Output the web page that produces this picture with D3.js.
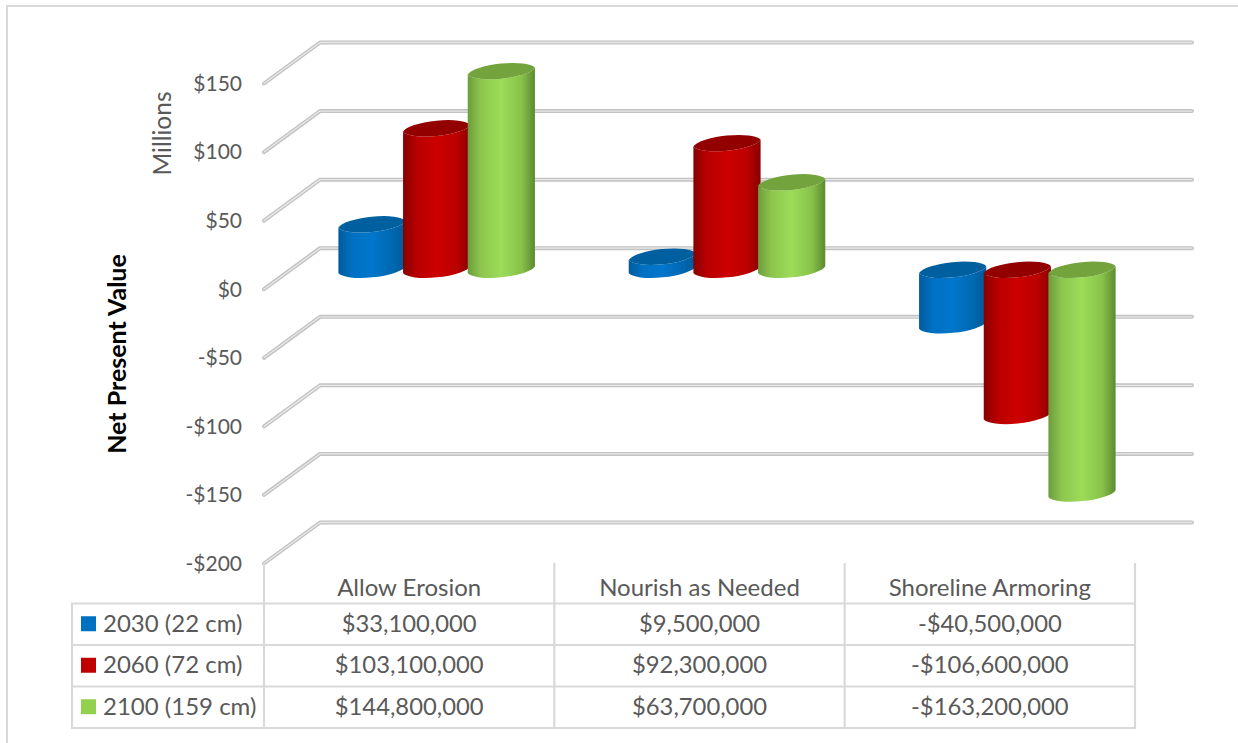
<!DOCTYPE html>
<html>
<head>
<meta charset="utf-8">
<script src="https://cdn.jsdelivr.net/npm/d3@7/dist/d3.min.js"></script>
<style>
html,body{margin:0;padding:0;background:#fff;overflow:hidden}
text{font-family:Lato,"Open Sans",sans-serif}
</style>
</head>
<body>
<svg id="chart" width="1238" height="743"></svg>
<script>
const categories = ["Allow Erosion", "Nourish as Needed", "Shoreline Armoring"];
const seriesNames = ["2030 (22 cm)", "2060 (72 cm)", "2100 (159 cm)"];
const values2030 = [33100000, 9500000, -40500000];
const values2060 = [103100000, 92300000, -106600000];
const values2100 = [144800000, 63700000, -163200000];
const tickValues = [150, 100, 50, 0, -50, -100, -150, -200];
const tableRows = [values2030, values2060, values2100];

const palette = [
  {swatch:"#0070c0", cap:"#00609f", stops:["#005b9e","#0070c2","#0077cc","#0068b2","#005a96"]},
  {swatch:"#c00000", cap:"#930000", stops:["#860000","#b80000","#cc0000","#bb0000","#880000"]},
  {swatch:"#92d050", cap:"#72a33e", stops:["#6c9c3c","#8ec64e","#9cdc58","#88c24a","#5c8a30"]}
];

const svg = d3.select("#chart");
const defs = svg.append("defs");
palette.forEach((p,i)=>{
  const g = defs.append("linearGradient").attr("id","cyl"+i).attr("x1",0).attr("x2",1).attr("y1",0).attr("y2",0);
  [0,.2,.5,.8,1].forEach((o,k)=>g.append("stop").attr("offset",o).attr("stop-color",p.stops[k]));
});
defs.append("filter").attr("id","soft").append("feGaussianBlur").attr("stdDeviation",0.5);

// outer frame
svg.append("path").attr("d","M7,743V6H1238").attr("fill","none").attr("stroke","#d9d9d9").attr("stroke-width",2);

// scales
const depthX = 56, depthY = 41;
const frontY = d3.scaleLinear().domain([-200,150]).range([563.5,83.5]);
const x = d3.scaleBand().domain(categories).range([264,1135]);
const series = d3.scaleBand().domain(d3.range(3)).range([0,194]);
const backY = v => frontY(v) - depthY;
const midY = v => frontY(v) - 19.5;
const midShift = 27.5;
const rowY = d3.scaleBand().domain(d3.range(3)).range([603.5,728]);

// gridlines
const gridPath = v => `M264,${frontY(v)}L${264+depthX},${backY(v)}H1192`;
const grid = svg.append("g").attr("fill","none").attr("stroke-linejoin","round").attr("stroke-linecap","round");
grid.selectAll(".o").data(tickValues).join("path").attr("d",gridPath).attr("stroke","#c2c2c2").attr("stroke-width",4);
grid.selectAll(".i").data(tickValues).join("path").attr("d",gridPath).attr("stroke","#e8e8e8").attr("stroke-width",1.3);

// y tick labels
const fmtTick = v => (v<0?"-":"") + "$" + Math.abs(v);
svg.append("g").selectAll("text").data(tickValues).join("text")
  .attr("x",242).attr("y",v=>frontY(v)).attr("dy","0.35em").attr("text-anchor","end")
  .attr("font-size",21).attr("fill","#595959").text(fmtTick);

svg.append("text").attr("transform","translate(171,133.5) rotate(-90)").attr("text-anchor","middle")
  .attr("font-size",24.5).attr("fill","#595959").text("Millions");
svg.append("text").attr("transform","translate(126,354) rotate(-90)").attr("text-anchor","middle")
  .attr("font-size",25).attr("font-weight","700").attr("fill","#000").text("Net Present Value");

// cylinders
const rx = 34.2, ry = 9, rot = -6, tilt = 3.4;
const bw = series.bandwidth();
const bars = [];
categories.forEach((c,ci)=>{
  tableRows.forEach((vals,si)=>{ bars.push({c,si,v:vals[ci]/1e6}); });
});
const barG = svg.append("g").attr("filter","url(#soft)");
bars.forEach(b=>{
  const cx = x(b.c) + x.bandwidth()/2 - 97 + series(b.si) + bw/2 + midShift;
  const xl = cx - 33.6, xr = cx + 33.6;
  const y0 = midY(0), y1 = midY(b.v);
  const top = Math.min(y0,y1), bot = Math.max(y0,y1);
  const g = barG.append("g");
  g.append("path").attr("fill",`url(#cyl${b.si})`)
    .attr("d",`M${xl},${top+tilt}L${xl},${bot+tilt}A${rx},${ry} ${rot} 0 0 ${xr},${bot-tilt}L${xr},${top-tilt}A${rx},${ry} ${rot} 0 1 ${xl},${top+tilt}Z`);
  g.append("path").attr("fill",palette[b.si].cap)
    .attr("d",`M${xl},${top+tilt}A${rx},${ry} ${rot} 0 1 ${xr},${top-tilt}A${rx},${ry} ${rot} 0 1 ${xl},${top+tilt}Z`);
});

// data table
const tableLines = svg.append("g").attr("fill","none").attr("stroke","#d9d9d9").attr("stroke-width",2.2);
const colEdges = [264].concat(categories.map(c=>x(c)+x.bandwidth()));
colEdges.forEach(e=>tableLines.append("line").attr("x1",e).attr("x2",e).attr("y1",563).attr("y2",rowY.range()[1]));
tableLines.append("line").attr("x1",72).attr("x2",72).attr("y1",rowY.range()[0]).attr("y2",rowY.range()[1]);
d3.range(4).forEach(i=>{
  const yy = rowY.range()[0] + i*rowY.step();
  tableLines.append("line").attr("x1",71).attr("x2",1136).attr("y1",yy).attr("y2",yy);
});

svg.append("g").selectAll("text").data(categories).join("text")
  .attr("x",c=>x(c)+x.bandwidth()/2).attr("y",587.5).attr("dy","0.35em").attr("text-anchor","middle")
  .attr("font-size",24).attr("fill","#595959").text(c=>c);

const fmtMoney = v => (v<0?"-":"") + "$" + d3.format(",")(Math.abs(v));
seriesNames.forEach((name,si)=>{
  const cy = rowY(si) + rowY.bandwidth()/2;
  svg.append("rect").attr("x",81).attr("y",cy-8).attr("width",15).attr("height",15).attr("fill",palette[si].swatch);
  svg.append("text").attr("x",103).attr("y",cy-1).attr("dy","0.35em").attr("font-size",24).attr("fill","#595959").text(name);
  categories.forEach((c,ci)=>{
    svg.append("text").attr("x",x(c)+x.bandwidth()/2).attr("y",cy-1).attr("dy","0.35em").attr("text-anchor","middle")
      .attr("font-size",23.8).attr("fill","#595959").text(fmtMoney(tableRows[si][ci]));
  });
});
</script>
</body>
</html>
